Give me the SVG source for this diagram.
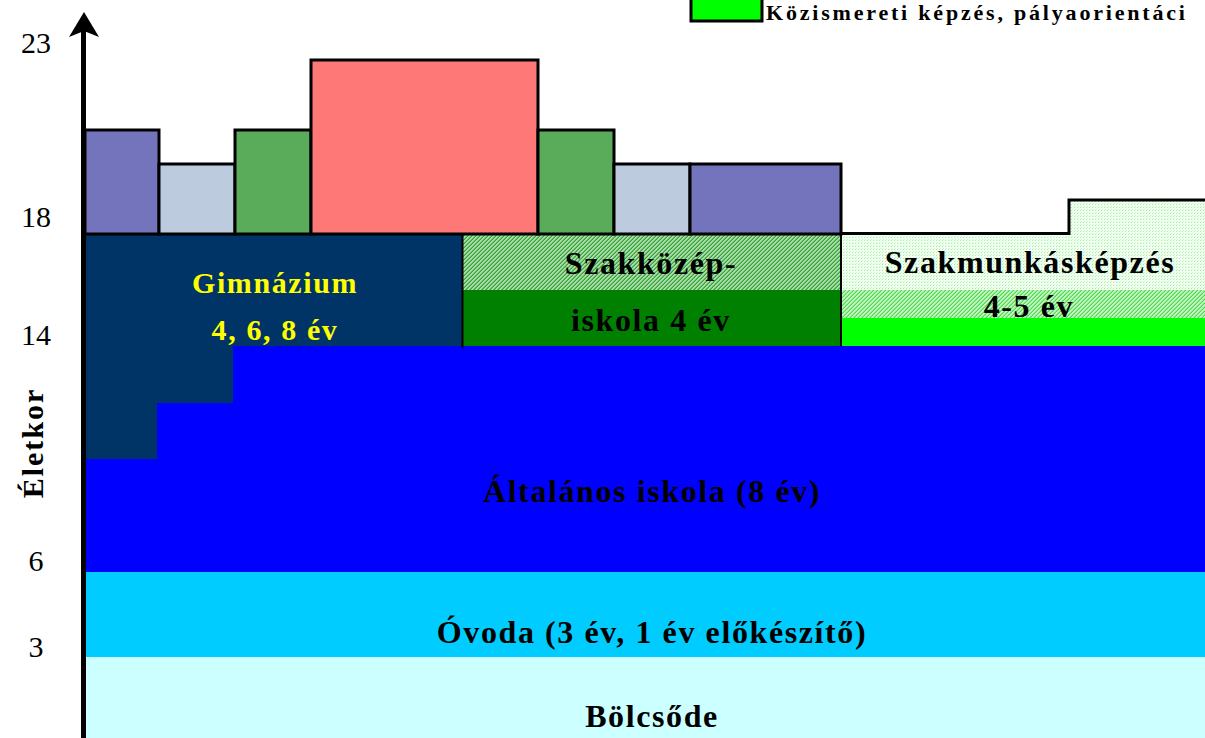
<svg xmlns="http://www.w3.org/2000/svg" width="1205" height="738" viewBox="0 0 1205 738">
<style>
.lbl{font-family:"Liberation Serif","Times New Roman",serif;font-weight:bold;font-size:32px;letter-spacing:1.6px;text-anchor:middle;fill:#000}
.yel{fill:#ffff00;font-size:30px}
.ax{font-family:"Liberation Serif","Times New Roman",serif;font-size:30px;text-anchor:middle;fill:#000}
.box{stroke:#000;stroke-width:3}
.purple{fill:#7474bc}
.light{fill:#bccbdd}
.green{fill:#5aab5a}
.red{fill:#ff7878}
</style>
<defs>
<pattern id="pSzk" width="4" height="4" patternUnits="userSpaceOnUse">
<rect width="4" height="4" fill="#a8dca8"/>
<rect x="3" y="0" width="1" height="1" fill="#3aa03a"/>
<rect x="2" y="1" width="1" height="1" fill="#3aa03a"/>
<rect x="1" y="2" width="1" height="1" fill="#3aa03a"/>
<rect x="0" y="3" width="1" height="1" fill="#3aa03a"/>
<rect x="2" y="0" width="1" height="1" fill="#66bc66"/>
<rect x="1" y="1" width="1" height="1" fill="#66bc66"/>
<rect x="0" y="2" width="1" height="1" fill="#66bc66"/>
<rect x="3" y="3" width="1" height="1" fill="#66bc66"/>
</pattern>
<pattern id="pDot" width="3" height="3" patternUnits="userSpaceOnUse">
<rect width="3" height="3" fill="#f2fff2"/>
<rect x="0" y="0" width="1" height="1" fill="#a0f0a0"/>
<rect x="1" y="2" width="1" height="1" fill="#c8f8c8"/>
</pattern>
<pattern id="pDense" width="4" height="4" patternUnits="userSpaceOnUse">
<rect width="4" height="4" fill="#c0f6c0"/>
<rect x="3" y="0" width="1" height="1" fill="#50d850"/>
<rect x="2" y="1" width="1" height="1" fill="#50d850"/>
<rect x="1" y="2" width="1" height="1" fill="#50d850"/>
<rect x="0" y="3" width="1" height="1" fill="#50d850"/>
<rect x="2" y="0" width="1" height="1" fill="#88e888"/>
<rect x="1" y="1" width="1" height="1" fill="#88e888"/>
<rect x="0" y="2" width="1" height="1" fill="#88e888"/>
<rect x="3" y="3" width="1" height="1" fill="#88e888"/>
</pattern>
</defs>
<rect width="1205" height="738" fill="#ffffff"/>

<g id="bolcsode">
<rect x="86" y="657" width="1119" height="81" fill="#ccffff"/>
<text class="lbl" x="652" y="727">Bölcsőde</text>
</g>
<g id="ovoda">
<rect x="86" y="572" width="1119" height="85" fill="#00ccff"/>
<text class="lbl" x="652" y="643">Óvoda (3 év, 1 év előkészítő)</text>
</g>
<g id="altalanos">
<rect x="86" y="346" width="1119" height="226" fill="#0000ff"/>
<text class="lbl" x="652" y="502">Általános iskola (8 év)</text>
</g>
<g id="gimnazium">
<path d="M86,235 H462 V346 H233 V403 H157 V459 H86 Z" fill="#003366"/>
<text class="lbl yel" x="275" y="293">Gimnázium</text>
<text class="lbl yel" x="275" y="340">4, 6, 8 év</text>
</g>
<g id="szakkozep">
<rect x="462" y="235" width="379" height="55" fill="url(#pSzk)"/>
<rect x="462" y="290" width="379" height="56" fill="#008000"/>
<line x1="462.5" y1="235" x2="462.5" y2="348" stroke="#000" stroke-width="2"/>
<text class="lbl" x="651" y="274">Szakközép-</text>
<text class="lbl" x="651" y="331">iskola 4 év</text>
</g>
<g id="szakmunkas">
<path d="M841,235 H1068 V199 H1205 V290 H841 Z" fill="url(#pDot)"/>
<rect x="841" y="290" width="364" height="28" fill="url(#pDense)"/>
<rect x="841" y="318" width="364" height="28" fill="#00ff00"/>
<polyline points="841,233.5 1069,233.5 1069,200 1205,200" fill="none" stroke="#000" stroke-width="3"/>
<line x1="841" y1="233" x2="841" y2="346" stroke="#000" stroke-width="2"/>
<text class="lbl" x="1030" y="273">Szakmunkásképzés</text>
<text class="lbl" x="1029" y="317">4-5 év</text>
</g>
<g id="top-bars">
<rect id="bar1" class="box purple" x="85" y="130" width="74" height="104"/>
<rect id="bar2" class="box light" x="159" y="164" width="76" height="70"/>
<rect id="bar3" class="box green" x="235" y="130" width="76" height="104"/>
<rect id="bar4" class="box red" x="311" y="60" width="227" height="174"/>
<rect id="bar5" class="box green" x="538" y="130" width="76" height="104"/>
<rect id="bar6" class="box light" x="614" y="164" width="76" height="70"/>
<rect id="bar7" class="box purple" x="690" y="164" width="151" height="70"/>
</g>
<g id="legend">
<rect x="691" y="-2" width="71" height="23" fill="#00ff00" stroke="#000" stroke-width="3"/>
<text x="766" y="20" font-family="Liberation Serif, Times New Roman, serif" font-weight="bold" font-size="22" letter-spacing="2.8" fill="#000">Közismereti képzés, pályaorientáci</text>
</g>
<g id="axis-labels">
<text class="ax" x="36" y="53">23</text>
<text class="ax" x="36" y="227">18</text>
<text class="ax" x="36" y="345">14</text>
<text class="ax" x="36" y="571">6</text>
<text class="ax" x="36" y="657">3</text>
<text transform="translate(43,443) rotate(-90)" font-family="Liberation Serif, Times New Roman, serif" font-weight="bold" font-size="30" letter-spacing="2" text-anchor="middle" fill="#000">Életkor</text>
</g>
<g id="connectors">
<line x1="83.5" y1="28" x2="83.5" y2="738" stroke="#000" stroke-width="5"/>
<path d="M84,12 L69,37 L84,31 L99,37 Z" fill="#000"/>
</g>
</svg>
